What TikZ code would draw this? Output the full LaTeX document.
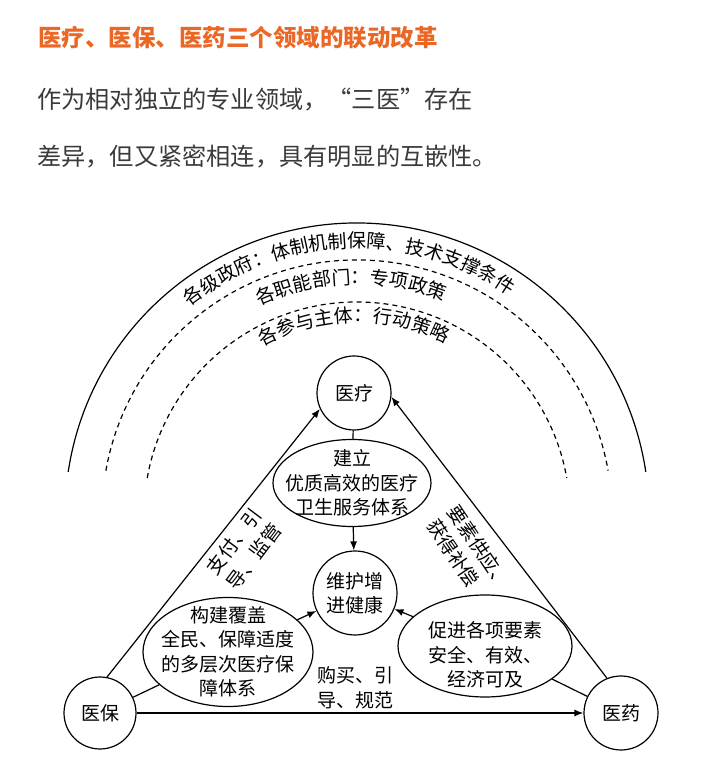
\documentclass[tikz,border=0pt]{standalone}
\usepackage{fontspec}
\setmainfont{Noto Sans CJK SC}
\usetikzlibrary{shapes.geometric, arrows.meta, decorations.text}
\definecolor{titleorange}{RGB}{234,103,38}
\definecolor{leadgray}{RGB}{58,58,58}

\begin{document}
\begin{tikzpicture}[
        x=1pt, y=1pt,
        field/.style={
            draw,
            circle,
            line width=1.2pt,
            minimum size=74pt,
            inner sep=0pt,
            align=center,
            font=\fontsize{19}{24}\selectfont
        },
        goal/.style={draw, ellipse, line width=1.2pt, inner sep=0pt},
        goaltext/.style={align=center, font=\fontsize{19}{24.5}\selectfont},
        edgelabel/.style={font=\fontsize{19}{25}\selectfont},
        link/.style={line width=1.2pt},
        signal/.style={-{Latex[length=9pt,width=7pt]}, line width=1.2pt},
        layer/.style={line width=1.2pt, dash pattern=on 5pt off 4pt},
        ring/.style={decorate, decoration={text along path, text align=center, text={#1}}}
    ]
        \useasboundingbox (0,0) rectangle (712,763);

        \node[font=\fontsize{23.5}{28}\selectfont\bfseries, text=titleorange, anchor=west, inner sep=0pt] (title) at (38,725) {医疗、医保、医药三个领域的联动改革};
        \node[font=\fontsize{24.2}{57}\selectfont, text=leadgray, anchor=west, align=left, inner sep=0pt] (lead) at (37,634.5) {作为相对独立的专业领域，“三医”存在\\差异，但又紧密相连，具有明显的互嵌性。};

        % arcs of the three layers round the triangle
        \coordinate (hub) at (357,248);
        \draw[link] (hub) ++(171.5:292) arc[start angle=171.5, end angle=8.5, radius=292];
        \draw[layer] (hub) ++(170:255) arc[start angle=170, end angle=10, radius=255];
        \draw[layer] (hub) ++(170:213) arc[start angle=170, end angle=10, radius=213];
        \path[ring={|\fontsize{19}{19}\selectfont|各级政府：体制机制保障、技术支撑条件}] (hub) ++(162:267) arc[start angle=162, end angle=22, radius=267];
        \path[ring={|\fontsize{19}{19}\selectfont|各职能部门：专项政策}] (hub) ++(160:231) arc[start angle=160, end angle=23, radius=231];
        \path[ring={|\fontsize{19}{19}\selectfont|各参与主体：行动策略}] (hub) ++(160:193) arc[start angle=160, end angle=22, radius=193];

        \node[field] (yiliao) at (354,370) {医疗};
        \node[field, minimum size=72pt] (yibao) at (100,50) {医保};
        \node[field] (yiyao) at (621,50) {医药};
        \node[field, minimum size=84pt] (health) at (355,170) {维护增\\进健康};

        \node[goal, minimum width=158pt, minimum height=87pt] (care) at (352,280) {};
        \node[goaltext] (careText) at (care) {建立\\优质高效的医疗\\卫生服务体系};
        \node[goal, minimum width=170pt, minimum height=109pt] (cover) at (228,111) {};
        \node[goaltext] (coverText) at (cover) {构建覆盖\\全民、保障适度\\的多层次医疗保\\障体系};
        \node[goal, minimum width=174pt, minimum height=102pt] (supply) at (485,117) {};
        \node[goaltext, yshift=-9pt] (supplyText) at (supply) {促进各项要素\\安全、有效、\\经济可及};

        \draw[signal] (yibao.79) -- (yiliao.205);
        \draw[signal] (yiyao.112) -- (yiliao.354);
        \draw[signal] (yibao) -- (yiyao);
        \draw[link] (yiliao) -- (care);
        \draw[signal] (care) -- (health);
        \draw[link] (yibao) -- (cover);
        \draw[signal] (cover) -- (health);
        \draw[link] (yiyao) -- (supply);
        \draw[signal] (supply) -- (health);

        \node[edgelabel, rotate=53, align=center] (payLabel) at (244,214) {支付、引\\导、监管};
        \node[edgelabel, rotate=-56, align=left] (feedLabel) at (469,209) {要素供应、\\获得补偿};
        \node[edgelabel, align=left] (buyLabel) at (355,75) {购买、引\\导、规范};
    \end{tikzpicture}
\end{document}
